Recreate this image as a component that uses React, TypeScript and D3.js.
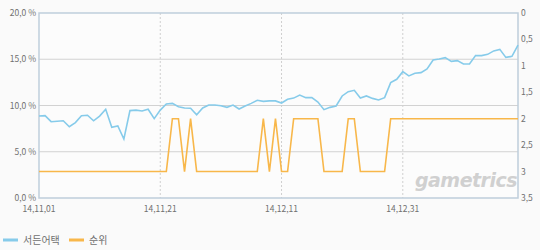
import React from "react";
import * as d3 from "d3";

const startDate = new Date(2014, 10, 1);
const shareValues: number[] = [
  8.86, 8.9, 8.25, 8.3, 8.35, 7.7, 8.15, 8.9, 8.95, 8.35,
  8.86, 9.6, 7.64, 7.8, 6.38, 9.45, 9.5, 9.4, 9.6, 8.58,
  9.5, 10.16, 10.23, 9.87, 9.73, 9.7, 9.0, 9.73, 10.05, 10.05,
  9.98, 9.8, 10.05, 9.62, 9.95, 10.23, 10.56, 10.45, 10.5, 10.5,
  10.27, 10.67, 10.8, 11.13, 10.85, 10.85, 10.38, 9.55, 9.8, 9.95,
  11.03, 11.5, 11.64, 10.8, 11.03, 10.77, 10.6, 10.85, 12.47, 12.83,
  13.66, 13.2, 13.48, 13.55, 13.95, 14.92, 15.03, 15.17, 14.77, 14.85,
  14.49, 14.49, 15.39, 15.39, 15.53, 15.9, 16.07, 15.2, 15.31, 16.54,
];
const rankValues: number[] = [
  3, 3, 3, 3, 3, 3, 3, 3, 3, 3,
  3, 3, 3, 3, 3, 3, 3, 3, 3, 3,
  3, 3, 2, 2, 3, 2, 3, 3, 3, 3,
  3, 3, 3, 3, 3, 3, 3, 2, 3, 2,
  3, 3, 2, 2, 2, 2, 2, 3, 3, 3,
  3, 2, 2, 3, 3, 3, 3, 3, 2, 2,
  2, 2, 2, 2, 2, 2, 2, 2, 2, 2,
  2, 2, 2, 2, 2, 2, 2, 2, 2, 2,
];
const xTickDates: Date[] = [
  new Date(2014, 10, 1),
  new Date(2014, 10, 21),
  new Date(2014, 11, 11),
  new Date(2014, 11, 31),
];
const leftTicks: number[] = [0, 5, 10, 15, 20];
const rightTicks: number[] = [0, 0.5, 1, 1.5, 2, 2.5, 3, 3.5];
const seriesNames: string[] = ["서든어택", "순위"];
const seriesColors: string[] = ["#86cbea", "#f8b74a"];

const dates = shareValues.map((_, i) => d3.timeDay.offset(startDate, i));

const W = 540;
const H = 250;
const L = 39;
const R = 518;
const T = 13;
const B = 198;
const FONT = "'Noto Sans CJK KR', 'Noto Sans', sans-serif";

export default function App() {
  const x = d3.scaleTime().domain([dates[0], dates[dates.length - 1]]).range([L, R]);
  const yL = d3.scaleLinear().domain([0, 20]).range([B, T]);
  const yR = d3.scaleLinear().domain([0, 3.5]).range([T, B]);

  const shareLine = d3
    .line<number>()
    .x((_, i) => x(dates[i]))
    .y((d) => yL(d));
  const rankLine = d3
    .line<number>()
    .x((_, i) => x(dates[i]))
    .y((d) => yR(d));

  const fmtDate = (d: Date) => d3.timeFormat("%y,%m,%d")(d);
  const fmtLeft = (v: number) => v.toFixed(1).replace(".", ",") + " %";
  const fmtRight = (v: number) => String(v).replace(".", ",");

  return (
    <svg
      width={W}
      height={H}
      style={{ position: "absolute", left: 0, top: 0, background: "#fafafa" }}
      fontFamily={FONT}
    >
      <rect x={0} y={0} width={W} height={H} fill="#fafafa" />
      <rect x={L} y={T} width={R - L} height={B - T} fill="#fcfcfc" />
      {leftTicks.slice(1, -1).map((t) => (
        <line key={"g" + t} x1={L} x2={R} y1={yL(t)} y2={yL(t)} stroke="#d2d2d2" strokeWidth={1} />
      ))}
      {xTickDates.slice(1).map((d, i) => (
        <line
          key={"v" + i}
          x1={x(d)}
          x2={x(d)}
          y1={T}
          y2={B}
          stroke="#cfcfcf"
          strokeWidth={1}
          strokeDasharray="2,2"
        />
      ))}
      <text
        x={466}
        y={187}
        textAnchor="middle"
        fontFamily="'DejaVu Sans', sans-serif"
        fontStyle="italic"
        fontWeight="bold"
        fontSize={19}
        fill="#d0d0d0"
        letterSpacing={-0.5}
      >
        gametrics
      </text>
      <rect x={L} y={T} width={R - L} height={B - T} fill="none" stroke="#bfcedb" strokeWidth={1.5} />
      <path d={shareLine(shareValues) || ""} fill="none" stroke={seriesColors[0]} strokeWidth={1.6} />
      <path d={rankLine(rankValues) || ""} fill="none" stroke={seriesColors[1]} strokeWidth={1.6} />
      {leftTicks.map((t) => (
        <text key={"l" + t} x={36} y={yL(t) + 3} textAnchor="end" fontSize={8.5} fill="#707070">
          {fmtLeft(t)}
        </text>
      ))}
      {rightTicks.map((t) => (
        <text key={"r" + t} x={521} y={yR(t) + 3} textAnchor="start" fontSize={8.5} fill="#707070">
          {fmtRight(t)}
        </text>
      ))}
      {xTickDates.map((d, i) => (
        <text key={"x" + i} x={x(d)} y={211.5} textAnchor="middle" fontSize={8.5} fill="#707070">
          {fmtDate(d)}
        </text>
      ))}
      {seriesNames.map((name, i) => {
        const lx = 3 + i * 66;
        return (
          <g key={name}>
            <line x1={lx} x2={lx + 15} y1={240} y2={240} stroke={seriesColors[i]} strokeWidth={3} />
            <text x={lx + 20} y={243.5} fontSize={10} fill="#707070">
              {name}
            </text>
          </g>
        );
      })}
    </svg>
  );
}
